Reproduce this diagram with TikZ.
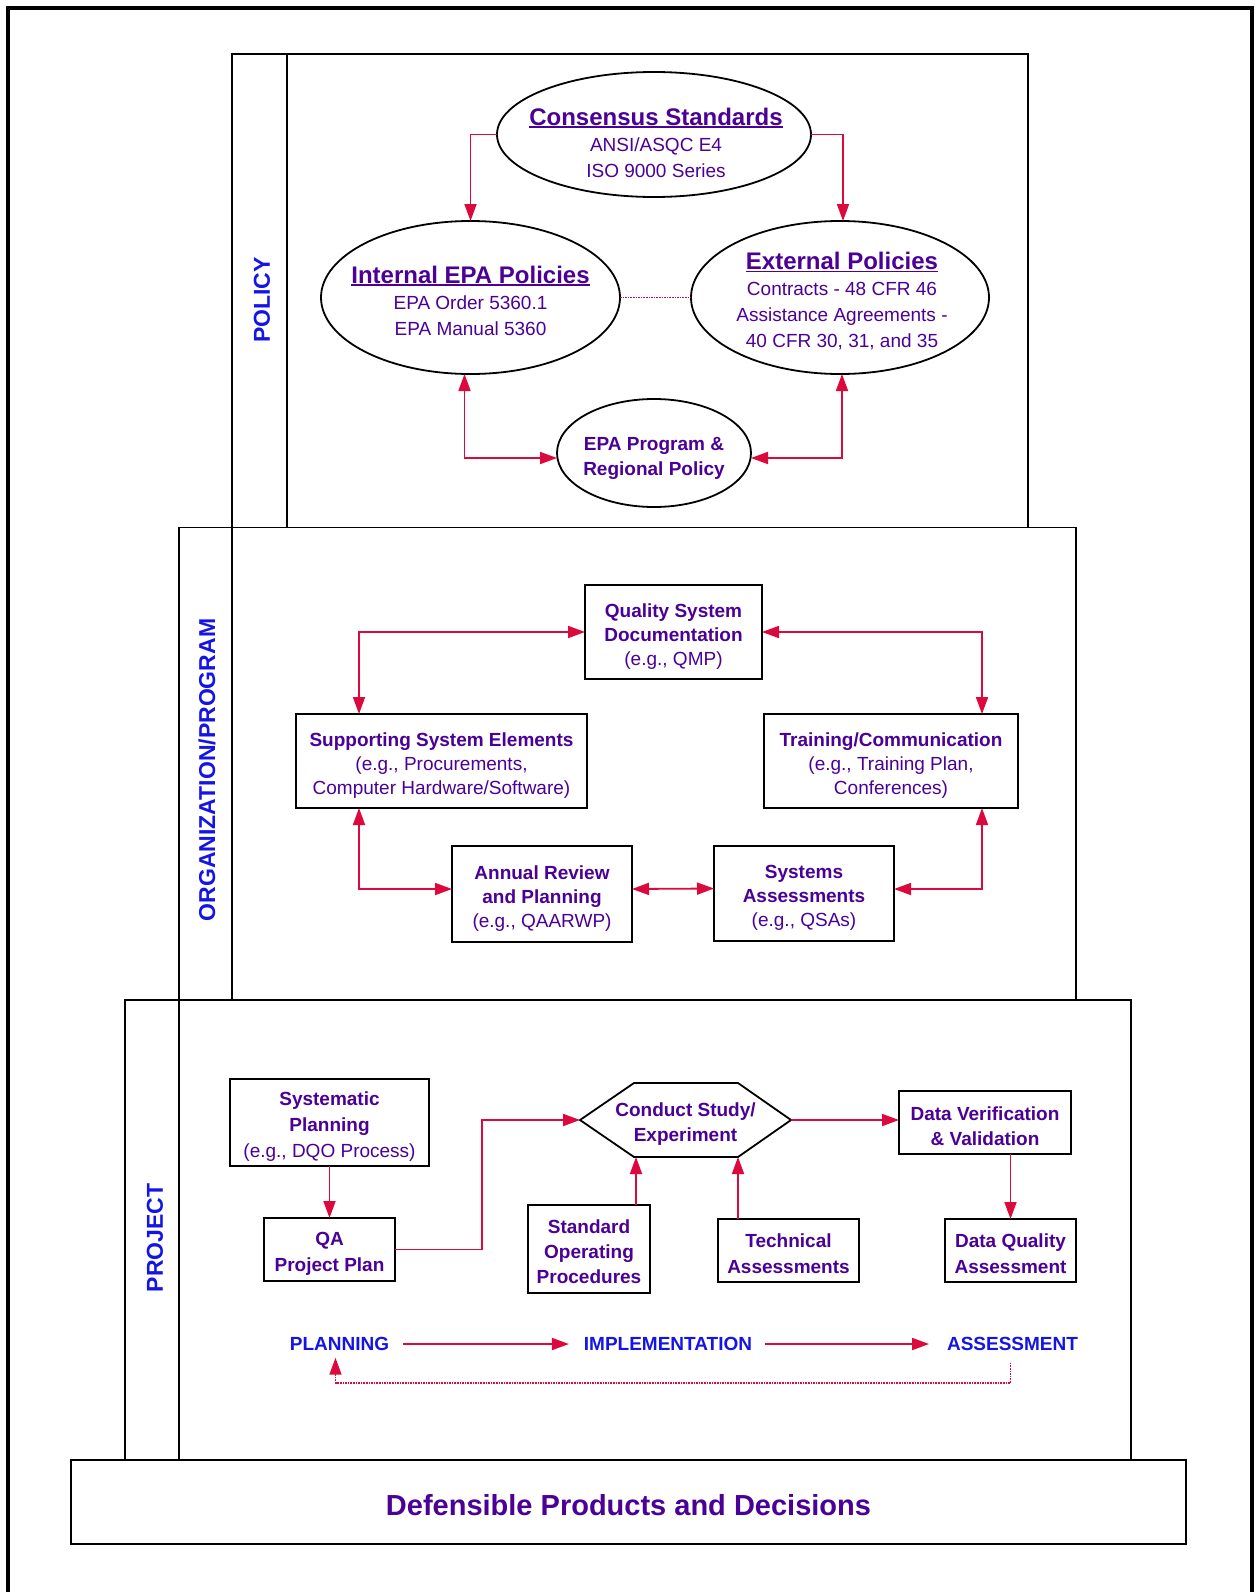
\documentclass[tikz,border=0pt]{standalone}
\usepackage{fontspec}
\setmainfont{Liberation Sans}
\usetikzlibrary{arrows.meta,shapes.geometric}
\definecolor{txp}{HTML}{4B0096}
\definecolor{arrc}{HTML}{DC0A3C}
\definecolor{lblc}{HTML}{1414E6}
\newcommand{\myul}[1]{\setbox0\hbox{#1}\rlap{\rule[-3pt]{\wd0}{1.8pt}}\box0}
\newcommand{\tp}{\rule{0pt}{22pt}}
\begin{document}
\begin{tikzpicture}[x=1pt,y=-1pt,
 every node/.style={inner sep=0pt, outer sep=0pt},
 boxn/.style={draw=black, line width=1.8pt, fill=white, align=center, text=txp, font=\fontsize{19}{24}\selectfont},
 prjbox/.style={boxn, font=\fontsize{19}{26}\selectfont},
 elln/.style={ellipse, draw=black, line width=1.8pt},
 etxt/.style={align=center, text=txp, font=\fontsize{19}{26}\selectfont},
 conn/.style={color=arrc, line width=1.8pt, -{Triangle[length=17pt,width=12pt]}},
 conntwo/.style={color=arrc, line width=1.8pt, {Triangle[length=17pt,width=12pt]}-{Triangle[length=17pt,width=12pt]}},
 dotc/.style={color=arrc, line width=1.6pt, densely dotted},
 sectbox/.style={draw=black, line width=1.8pt},
 sidelbl/.style={rotate=90, text=lblc, font=\fontsize{23}{23}\selectfont\bfseries},
 phaselbl/.style={text=lblc, font=\fontsize{19}{19}\selectfont\bfseries},
]
\useasboundingbox (0,0) rectangle (1254,1592);
% outer frame
\draw[line width=4pt] (8,1610) -- (8,8) -- (1251.5,8) -- (1251.5,1610);
% sections
\draw[sectbox] (179,527.5) rectangle (1076,1000);
\draw[sectbox] (232,527.5) -- (232,1000);
\draw[sectbox] (232,54) rectangle (1028,527.5);
\draw[sectbox] (287,54) -- (287,527.5);
\draw[sectbox] (125,1000) rectangle (1131,1460);
\draw[sectbox] (179,1000) -- (179,1460);
% side labels
\node[sidelbl] (lpol) at (262,300) {POLICY};
\node[sidelbl] (lorg) at (207,770) {ORGANIZATION/PROGRAM};
\node[sidelbl] (lprj) at (155,1238) {PROJECT};
% policy ellipses
\node[elln, minimum width=314pt, minimum height=125pt] (cons) at (654,134.5) {};
\node[etxt] (consT) at (656,142.5) {{\fontsize{24}{27}\selectfont\bfseries\myul{Consensus Standards}}\\ANSI/ASQC E4\\ISO 9000 Series};
\node[elln, minimum width=299pt, minimum height=153pt] (int) at (470.5,297.5) {};
\node[etxt] (intT) at (470.5,300.5) {{\fontsize{24}{27}\selectfont\bfseries\myul{Internal EPA Policies}}\\EPA Order 5360.1\\EPA Manual 5360};
\node[elln, minimum width=298pt, minimum height=153pt] (ext) at (840,297.5) {};
\node[etxt] (extT) at (842,301) {{\fontsize{24}{27}\selectfont\bfseries\myul{External Policies}}\\Contracts - 48 CFR 46\\Assistance Agreements -\\40 CFR 30, 31, and 35};
\node[elln, minimum width=194pt, minimum height=108pt] (epa) at (654,453) {};
\node[etxt, font=\fontsize{19}{25}\selectfont\bfseries] (epaT) at (654,458) {EPA Program \&\\Regional Policy};
\draw[conn] (cons.west) -| (int.north);
\draw[conn] (cons.east) -| ([xshift=3pt]ext.north);
\draw[dotc] (int.east) -- (ext.west);
\draw[conntwo] ([xshift=-6pt]int.south) |- ([yshift=-5pt]epa.west);
\draw[conntwo] ([xshift=2pt]ext.south) |- ([yshift=-5pt]epa.east);
% organization boxes
\node[boxn, minimum width=177pt, minimum height=94pt] (qsd) at (673.5,632) {\tp{\bfseries Quality System}\\{\bfseries Documentation}\\(e.g., QMP)};
\node[boxn, minimum width=291pt, minimum height=94pt] (sup) at (441.5,761) {\tp{\bfseries Supporting System Elements}\\(e.g., Procurements,\\Computer Hardware/Software)};
\node[boxn, minimum width=254pt, minimum height=94pt] (trn) at (891,761) {\tp{\bfseries Training/Communication}\\(e.g., Training Plan,\\Conferences)};
\node[boxn, minimum width=180pt, minimum height=96pt] (ann) at (542,894) {\tp{\bfseries Annual Review}\\{\bfseries and Planning}\\(e.g., QAARWP)};
\node[boxn, minimum width=180pt, minimum height=95pt] (sys) at (804,893.5) {\tp{\bfseries Systems}\\{\bfseries Assessments}\\(e.g., QSAs)};
\draw[conntwo] ([xshift=63pt]sup.north west) |- (qsd.west);
\draw[conntwo] ([xshift=-36pt]trn.north east) |- (qsd.east);
\draw[conntwo] ([xshift=63pt]sup.south west) |- ([yshift=5pt]ann.west);
\draw[conntwo] ([yshift=5pt]ann.east) -- ([yshift=5pt]sys.west);
\draw[conntwo] ([yshift=4.5pt]sys.east) -| ([xshift=-36pt]trn.south east);
% project boxes
\node[prjbox, minimum width=199pt, minimum height=87pt] (sysp) at (329.5,1122.5) {\tp{\bfseries Systematic}\\{\bfseries Planning}\\(e.g., DQO Process)};
\node[prjbox, minimum width=131pt, minimum height=63pt] (qa) at (329.5,1249.5) {\tp{\bfseries QA}\\{\bfseries Project Plan}};
\node[align=center, text=txp, font=\fontsize{19}{25}\selectfont\bfseries, minimum width=211pt, minimum height=74pt] (hex) at (685.5,1120) {\tp Conduct Study/\\Experiment};
\draw[line width=1.8pt] (hex.west) -- ([xshift=54pt]hex.north west) -- ([xshift=-53pt]hex.north east) -- (hex.east) -- ([xshift=-53pt]hex.south east) -- ([xshift=54pt]hex.south west) -- cycle;
\node[prjbox, font=\fontsize{19}{25}\selectfont\bfseries, minimum width=172pt, minimum height=63pt] (dv) at (985,1122.5) {\tp Data Verification\\\& Validation};
\node[prjbox, font=\fontsize{19}{25}\selectfont\bfseries, minimum width=122pt, minimum height=88pt] (sop) at (589,1249) {\rule{0pt}{20pt}Standard\\Operating\\Procedures};
\node[prjbox, font=\fontsize{19}{26}\selectfont\bfseries, minimum width=141pt, minimum height=63pt] (tech) at (788.5,1250.5) {\rule{0pt}{20pt}Technical\\Assessments};
\node[prjbox, font=\fontsize{19}{26}\selectfont\bfseries, minimum width=131pt, minimum height=63pt] (dqa) at (1010.5,1250.5) {\rule{0pt}{20pt}Data Quality\\Assessment};
\coordinate (hbl) at ([xshift=56pt]hex.south west);
\coordinate (hbr) at ([xshift=-53pt]hex.south east);
\draw[conn] (sysp.south) -- (qa.north);
\draw[conn] (qa.east) -- ([xshift=87pt]qa.east) |- (hex.west);
\draw[conn] (hbl |- sop.north) -- (hbl);
\draw[conn] (hbr |- tech.north) -- (hbr);
\draw[conn] (hex.east) -- (hex.east -| dv.west);
\draw[conn] (dv.south -| dqa.north) -- (dqa.north);
% phases
\node[phaselbl] (plan) at (339.5,1344) {PLANNING};
\node[phaselbl] (impl) at (668,1344) {IMPLEMENTATION};
\node[phaselbl] (asse) at (1012.5,1344) {ASSESSMENT};
\draw[conn, shorten <=14pt, shorten >=15pt] (plan) -- (impl);
\draw[conn, shorten <=13pt, shorten >=18pt] (impl) -- (asse);
\draw[dotc, -{Triangle[length=17pt,width=12pt]}] ([xshift=-2pt,yshift=-12pt]asse.south) -- ++(0,20) -| ([xshift=-4pt,yshift=-7pt]plan.south);
% bottom
\node[boxn, minimum width=1115pt, minimum height=84pt, font=\fontsize{29}{29}\selectfont\bfseries] (def) at (628.5,1502) {\rule{0pt}{27pt}Defensible Products and Decisions};
\end{tikzpicture}
\end{document}
